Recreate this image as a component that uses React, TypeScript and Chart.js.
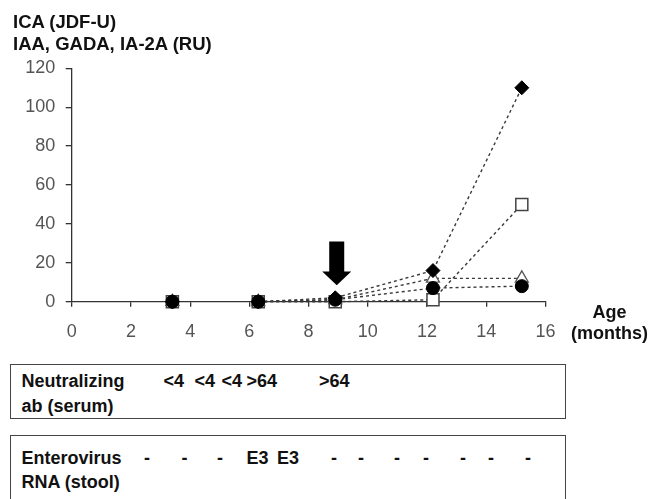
import React, { useEffect, useRef } from "react";
import { Chart, registerables } from "chart.js";

Chart.register(...registerables);

// ---- data ----
const ages = [3.4, 6.3, 8.9, 12.2, 15.2];
const diamondValues = [0, 0, 2, 16, 110];
const circleValues = [0, 0, 1, 7, 8];
const triangleValues = [0, 0, 1, 12, 12];
const squareValues = [0, 0, 0, 1, 50];
const xTickValues = [0, 2, 4, 6, 8, 10, 12, 14, 16];
const yTickValues = [0, 20, 40, 60, 80, 100, 120];
const arrowAge = 8.95;
const arrowTail = 31;
const arrowHeadBase = 15.5;
const arrowTip = 8.5;
const titleLines = ["ICA (JDF-U)", "IAA, GADA, IA-2A (RU)"];
const xAxisTitle = ["Age", "(months)"];
const neutralizingLabel = ["Neutralizing", "ab (serum)"];
const neutralizingTiters = ["<4", "<4", "<4", ">64", ">64"];
const enterovirusLabel = ["Enterovirus", "RNA (stool)"];
const enterovirusResults = ["-", "-", "-", "E3", "E3", "-", "-", "-", "-", "-", "-", "-"];

// ---- layout (pixels) ----
const titerLeft = [163.5, 194.6, 221.6, 246.5, 319];
const resultCenters = [147, 184.5, 220, 257.5, 288, 334, 361, 397, 426, 463, 491, 528];

const FONT = "'Liberation Sans', Arial, Helvetica, sans-serif";

const toPoints = (vals: number[]) => ages.map((a, i) => ({ x: a, y: vals[i] }));

const arrowPlugin = {
  id: "arrowPlugin",
  afterDatasetsDraw(chart: any) {
    const xs = chart.scales.x;
    const ys = chart.scales.y;
    const cx = xs.getPixelForValue(arrowAge);
    const yTail = ys.getPixelForValue(arrowTail);
    const yBase = ys.getPixelForValue(arrowHeadBase);
    const yTip = ys.getPixelForValue(arrowTip);
    const ctx = chart.ctx;
    ctx.save();
    ctx.fillStyle = "#000";
    ctx.beginPath();
    ctx.moveTo(cx - 7.5, yTail);
    ctx.lineTo(cx + 7.5, yTail);
    ctx.lineTo(cx + 7.5, yBase);
    ctx.lineTo(cx + 14.5, yBase);
    ctx.lineTo(cx, yTip);
    ctx.lineTo(cx - 14.5, yBase);
    ctx.lineTo(cx - 7.5, yBase);
    ctx.closePath();
    ctx.fill();
    ctx.restore();
  },
};

export default function App() {
  const ref = useRef<HTMLCanvasElement | null>(null);

  useEffect(() => {
    if (!ref.current) return;
    const lineCommon = {
      showLine: true,
      clip: false,
      borderColor: "#3a3a3a",
      borderWidth: 1.4,
      borderDash: [3, 3],
      fill: false,
      tension: 0,
      segment: {
        borderColor: (ctx: any) => (ctx.p0DataIndex === 0 ? "rgba(0,0,0,0)" : undefined),
      },
    };
    const chart = new Chart(ref.current, {
      type: "scatter",
      data: {
        datasets: [
          {
            ...lineCommon,
            label: "square",
            order: 4,
            data: toPoints(squareValues),
            pointStyle: "rect",
            pointRadius: 8.5,
            pointBackgroundColor: "#fff",
            pointBorderColor: "#444",
            pointBorderWidth: 1.5,
          },
          {
            ...lineCommon,
            label: "triangle",
            order: 3,
            data: toPoints(triangleValues),
            pointStyle: "triangle",
            pointRadius: 7.5,
            pointBackgroundColor: "#fff",
            pointBorderColor: "#555",
            pointBorderWidth: 1.3,
          },
          {
            ...lineCommon,
            label: "circle",
            order: 2,
            data: toPoints(circleValues),
            pointStyle: "circle",
            pointRadius: 6.5,
            pointBackgroundColor: "#000",
            pointBorderColor: "#000",
            pointBorderWidth: 1,
          },
          {
            ...lineCommon,
            label: "diamond",
            order: 1,
            data: toPoints(diamondValues),
            pointStyle: "rectRot",
            pointRadius: 7,
            pointBackgroundColor: "#000",
            pointBorderColor: "#000",
            pointBorderWidth: 1,
          },
        ] as any,
      },
      options: {
        animation: false,
        responsive: false,
        maintainAspectRatio: false,
        layout: { padding: { left: 0, right: 105.5, top: 68.3, bottom: 0 } },
        plugins: { legend: { display: false }, tooltip: { enabled: false } },
        scales: {
          x: {
            type: "linear",
            min: 0,
            max: 16,
            afterBuildTicks: (s: any) => {
              s.ticks = xTickValues.map((v) => ({ value: v }));
            },
            afterFit: (s: any) => {
              s.height = 43.3;
            },
            grid: { drawOnChartArea: false, drawTicks: true, tickLength: 5, color: "#333", lineWidth: 1.3 },
            border: { display: true, color: "#333", width: 1.3 },
            ticks: { padding: 14.5, color: "#555", font: { family: FONT, size: 18 }, maxRotation: 0, autoSkip: false },
          },
          y: {
            type: "linear",
            min: 0,
            max: 120,
            afterBuildTicks: (s: any) => {
              s.ticks = yTickValues.map((v) => ({ value: v }));
            },
            afterFit: (s: any) => {
              s.width = 71.7;
            },
            grid: { drawOnChartArea: false, drawTicks: true, tickLength: 6, color: "#333", lineWidth: 1.3 },
            border: { display: true, color: "#333", width: 1.3 },
            ticks: { padding: 10.5, color: "#555", font: { family: FONT, size: 18 }, autoSkip: false },
          },
        },
      } as any,
      plugins: [arrowPlugin],
    });
    return () => chart.destroy();
  }, []);

  const boldText = (size: number): React.CSSProperties => ({
    position: "absolute",
    fontFamily: FONT,
    fontWeight: "bold",
    fontSize: size,
    lineHeight: `${Math.round(size * 1.15)}px`,
    color: "#111",
    whiteSpace: "nowrap",
  });

  return (
    <div
      style={{
        position: "absolute",
        left: 0,
        top: 0,
        width: 651,
        height: 499,
        overflow: "hidden",
        background: "#fff",
      }}
    >
      <canvas ref={ref} width={651} height={345} style={{ position: "absolute", left: 0, top: 0, width: 651, height: 345 }} />
      <div style={{ ...boldText(18.5), left: 13, top: 11 }}>{titleLines[0]}</div>
      <div style={{ ...boldText(18.5), left: 13, top: 32.8 }}>{titleLines[1]}</div>
      <div style={{ ...boldText(18), left: 559.5, width: 100, textAlign: "center", top: 302.4 }}>{xAxisTitle[0]}</div>
      <div style={{ ...boldText(18), left: 559.5, width: 100, textAlign: "center", top: 323.4 }}>{xAxisTitle[1]}</div>

      <div
        style={{
          position: "absolute",
          left: 10,
          top: 364,
          width: 556,
          height: 55,
          border: "1.5px solid #444",
          boxSizing: "border-box",
        }}
      />
      <div style={{ ...boldText(18), left: 21.5, top: 371.4 }}>{neutralizingLabel[0]}</div>
      <div style={{ ...boldText(18), left: 21.5, top: 396.4 }}>{neutralizingLabel[1]}</div>
      {neutralizingTiters.map((t, i) => (
        <div key={"n" + i} style={{ ...boldText(18), left: titerLeft[i], top: 371.4 }}>
          {t}
        </div>
      ))}

      <div
        style={{
          position: "absolute",
          left: 10,
          top: 435,
          width: 556,
          height: 90,
          border: "1.5px solid #444",
          boxSizing: "border-box",
        }}
      />
      <div style={{ ...boldText(18), left: 21.5, top: 448.3 }}>{enterovirusLabel[0]}</div>
      <div style={{ ...boldText(18), left: 21.5, top: 471.6 }}>{enterovirusLabel[1]}</div>
      {enterovirusResults.map((t, i) => (
        <div
          key={"e" + i}
          style={{ ...boldText(18), left: resultCenters[i] - 20, width: 40, textAlign: "center", top: 448.3 }}
        >
          {t}
        </div>
      ))}
    </div>
  );
}
